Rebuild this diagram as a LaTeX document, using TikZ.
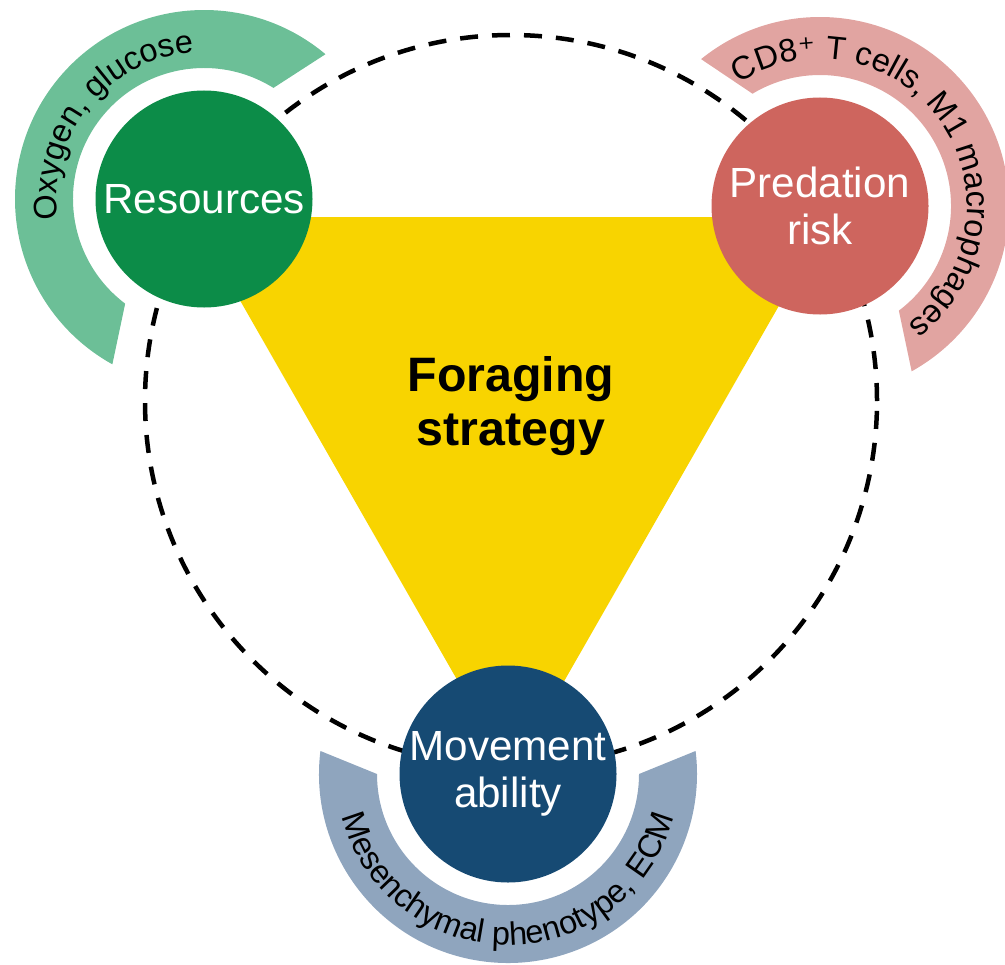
\documentclass[tikz,border=0pt]{standalone}
\usepackage{fontspec}
\setmainfont{Liberation Sans}
\newfontfamily\supfont{DejaVu Sans}
\usetikzlibrary{calc,decorations.text}

\definecolor{resgreen}{RGB}{12,140,72}
\definecolor{resband}{RGB}{108,191,151}
\definecolor{predred}{RGB}{206,101,94}
\definecolor{predband}{RGB}{225,164,161}
\definecolor{movblue}{RGB}{22,74,115}
\definecolor{movband}{RGB}{143,165,190}
\definecolor{foryellow}{RGB}{248,212,0}

\newcommand{\nodefont}{\fontsize{24}{27}\selectfont}
\newcommand{\bandfont}{\fontsize{18.5}{20}\selectfont}

\tikzset{
  factor/.style={circle, inner sep=0pt, minimum size=43.4mm, text=white,
    align=center, font=\nodefont},
  dashring/.style={black, line width=0.9mm, dash pattern=on 3.6mm off 2.8mm},
  bandtext/.style={decorate, decoration={text along path, text align=center,
    text={|\bandfont|#1}}},
}

\begin{document}
\begin{tikzpicture}[x=0.2mm, y=0.2mm]
  \useasboundingbox (0,0) rectangle (1005,-964);

  % Centre of the ring and factor positions
  \coordinate (ctr) at (511,-401);
  \coordinate (resc) at (204,-199);
  \coordinate (predc) at (820,-206);
  \coordinate (movc) at (508,-774);

  % Triangle corners
  \coordinate (t1) at ($(ctr)+(150:368)$);
  \coordinate (t2) at ($(ctr)+(30:368)$);
  \coordinate (t3) at ($(ctr)+(-90:373)$);

  % Foraging triangle
  \fill[foryellow] (t1) -- (t2) -- (t3) -- cycle;

  % Dashed ring
  \draw[dashring] (ctr) circle[radius=366];

  % Outer bands
  \fill[resband] ($(resc)+(50:189)$) arc[start angle=50, end angle=241, radius=189]
    -- ($(resc)+(233:131)$) arc[start angle=233, end angle=58, radius=131] -- cycle;
  \fill[predband] ($(predc)+(129:189)$) arc[start angle=129, end angle=-61, radius=189]
    -- ($(predc)+(-53:131)$) arc[start angle=-53, end angle=121, radius=131] -- cycle;
  \fill[movband] ($(movc)+(173:189)$) arc[start angle=173, end angle=367, radius=189]
    -- ($(movc)+(0:131)$) arc[start angle=360, end angle=180, radius=131] -- cycle;

  % Band labels
  \path[bandtext={Oxygen, glucose}]
    ($(resc)+(201:147)$) arc[start angle=201, end angle=81, radius=147];
  \path[bandtext={CD8|\supfont\bandfont|⁺|\rmfamily\bandfont| T cells, M1 macrophages}]
    ($(predc)+(145:147)$) arc[start angle=145, end angle=-75, radius=147];
  \path[bandtext={Mesenchymal phenotype, ECM}]
    ($(movc)+(170:171)$) arc[start angle=170, end angle=370, radius=171];

  % Factors
  \node[factor, fill=resgreen] (res) at (resc) {Resources};
  \node[factor, fill=predred] (pred) at (predc) {Predation\\risk};
  \node[factor, fill=movblue] (mov) at (movc) {Movement\\ability};

  \node[font=\bfseries\fontsize{27.5}{31}\selectfont, align=center] (strat) at (511,-406) {Foraging\\strategy};
\end{tikzpicture}
\end{document}
